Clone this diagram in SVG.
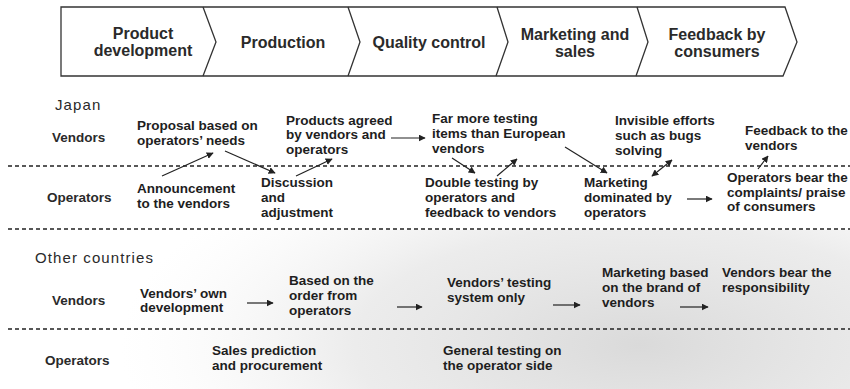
<svg xmlns="http://www.w3.org/2000/svg" width="850" height="389" viewBox="0 0 850 389">
<style>
text{font-family:"Liberation Sans",Arial,sans-serif;fill:#1e1e1e}
.h{font-size:16px;font-weight:bold;text-anchor:middle;fill:#2a2a2a}
.t{font-size:13.5px;font-weight:bold}
.l{font-size:13.5px;font-weight:bold;fill:#2a2a2a}
.c{font-size:15px;letter-spacing:1.1px;fill:#2a2a2a}
.dash{stroke:#222;stroke-width:1.4;stroke-dasharray:4 3;fill:none}
.a{stroke:#222;stroke-width:1.2;fill:none;marker-end:url(#ah)}
.chev{fill:none;stroke:#333;stroke-width:1.3}
</style>
<defs>
<marker id="ah" viewBox="0 0 10 10" refX="9" refY="5" markerWidth="7" markerHeight="7" orient="auto" markerUnits="userSpaceOnUse">
<path d="M0,0 L10,5 L0,10 z" fill="#222"/>
</marker>
<marker id="as" viewBox="0 0 10 10" refX="1" refY="5" markerWidth="7" markerHeight="7" orient="auto" markerUnits="userSpaceOnUse">
<path d="M10,0 L0,5 L10,10 z" fill="#222"/>
</marker>
<radialGradient id="bg" cx="640" cy="345" r="520" gradientUnits="userSpaceOnUse" gradientTransform="translate(640 345) scale(1 0.42) translate(-640 -345)">
<stop offset="0" stop-color="#d8d8d8" stop-opacity="0.95"/>
<stop offset="0.55" stop-color="#e4e4e4" stop-opacity="0.7"/>
<stop offset="1" stop-color="#f4f4f4" stop-opacity="0"/>
</radialGradient>
</defs>
<rect x="0" y="0" width="850" height="389" fill="#fff"/>
<rect x="0" y="230" width="850" height="159" fill="url(#bg)"/>

<g id="value-chain">
<path class="chev" d="M61,7 L785,7 L797,42 L783,76 L61,76 Z"/>
<path class="chev" d="M203,7 L216,42 L203,76"/>
<path class="chev" d="M348,7 L360,42 L348,76"/>
<path class="chev" d="M497,7 L508,42 L496,76"/>
<path class="chev" d="M637,7 L648,42 L636,76"/>
</g>
<g id="step-product-development"><text class="h" x="143" y="39">Product</text><text class="h" x="143" y="56">development</text></g>
<g id="step-production"><text class="h" x="283" y="48">Production</text></g>
<g id="step-quality-control"><text class="h" x="429" y="48">Quality control</text></g>
<g id="step-marketing"><text class="h" x="575" y="40">Marketing and</text><text class="h" x="575" y="57">sales</text></g>
<g id="step-feedback"><text class="h" x="717" y="40">Feedback by</text><text class="h" x="717" y="57">consumers</text></g>

<g id="separators">
<line class="dash" x1="8" y1="166" x2="850" y2="166"/>
<line class="dash" x1="8" y1="229" x2="850" y2="229"/>
<line class="dash" x1="8" y1="329" x2="850" y2="329"/>
</g>

<g id="labels">
<text class="c" x="55" y="110">Japan</text>
<text class="l" x="52" y="142">Vendors</text>
<text class="l" x="47" y="202">Operators</text>
<text class="c" x="35" y="263">Other countries</text>
<text class="l" x="52" y="305">Vendors</text>
<text class="l" x="45" y="365">Operators</text>
</g>

<g id="jp-proposal"><text class="t" x="137" y="130">Proposal based on</text><text class="t" x="137" y="145">operators’ needs</text></g>
<g id="jp-products-agreed"><text class="t" x="286" y="125">Products agreed</text><text class="t" x="286" y="139">by vendors and</text><text class="t" x="286" y="154">operators</text></g>
<g id="jp-far-more"><text class="t" x="432" y="123">Far more testing</text><text class="t" x="432" y="138">items than European</text><text class="t" x="432" y="153">vendors</text></g>
<g id="jp-invisible"><text class="t" x="615" y="125">Invisible efforts</text><text class="t" x="615" y="140">such as bugs</text><text class="t" x="615" y="155">solving</text></g>
<g id="jp-feedback"><text class="t" x="745" y="135">Feedback to the</text><text class="t" x="745" y="150">vendors</text></g>
<g id="jp-announcement"><text class="t" x="137" y="193">Announcement</text><text class="t" x="137" y="208">to the vendors</text></g>
<g id="jp-discussion"><text class="t" x="261" y="187">Discussion</text><text class="t" x="261" y="202">and</text><text class="t" x="261" y="217">adjustment</text></g>
<g id="jp-double-testing"><text class="t" x="425" y="187">Double testing by</text><text class="t" x="425" y="202">operators and</text><text class="t" x="425" y="217">feedback to vendors</text></g>
<g id="jp-marketing"><text class="t" x="584" y="187">Marketing</text><text class="t" x="584" y="202">dominated by</text><text class="t" x="584" y="217">operators</text></g>
<g id="jp-operators-bear"><text class="t" x="727" y="182">Operators bear the</text><text class="t" x="727" y="197">complaints/ praise</text><text class="t" x="727" y="211">of consumers</text></g>

<g id="oc-own-dev"><text class="t" x="140" y="298">Vendors’ own</text><text class="t" x="140" y="312">development</text></g>
<g id="oc-based-order"><text class="t" x="289" y="285">Based on the</text><text class="t" x="289" y="300">order from</text><text class="t" x="289" y="315">operators</text></g>
<g id="oc-testing"><text class="t" x="447" y="287">Vendors’ testing</text><text class="t" x="447" y="302">system only</text></g>
<g id="oc-marketing"><text class="t" x="602" y="277">Marketing based</text><text class="t" x="602" y="292">on the brand of</text><text class="t" x="602" y="307">vendors</text></g>
<g id="oc-bear"><text class="t" x="722" y="277">Vendors bear the</text><text class="t" x="722" y="292">responsibility</text></g>
<g id="oc-sales"><text class="t" x="212" y="355">Sales prediction</text><text class="t" x="212" y="370">and procurement</text></g>
<g id="oc-general"><text class="t" x="443" y="355">General testing on</text><text class="t" x="443" y="370">the operator side</text></g>

<g id="connectors">
<line class="a" x1="162" y1="176" x2="213" y2="153"/>
<line class="a" x1="225" y1="151" x2="275" y2="173"/>
<line class="a" x1="296" y1="176" x2="332" y2="159"/>
<line class="a" x1="391" y1="138" x2="425" y2="138"/>
<line class="a" x1="452" y1="158" x2="475" y2="173"/>
<line class="a" x1="497" y1="176" x2="517" y2="159"/>
<line class="a" x1="565" y1="147" x2="607" y2="173"/>
<line class="a" x1="652" y1="176" x2="672" y2="160" style="marker-start:url(#as)"/>
<line class="a" x1="758" y1="169" x2="768" y2="156"/>
<line class="a" x1="687" y1="199" x2="712" y2="199"/>
<line class="a" x1="247" y1="303" x2="273" y2="303"/>
<line class="a" x1="397" y1="307" x2="422" y2="307"/>
<line class="a" x1="553" y1="305" x2="580" y2="305"/>
<line class="a" x1="680" y1="307" x2="708" y2="307"/>
</g>
</svg>
